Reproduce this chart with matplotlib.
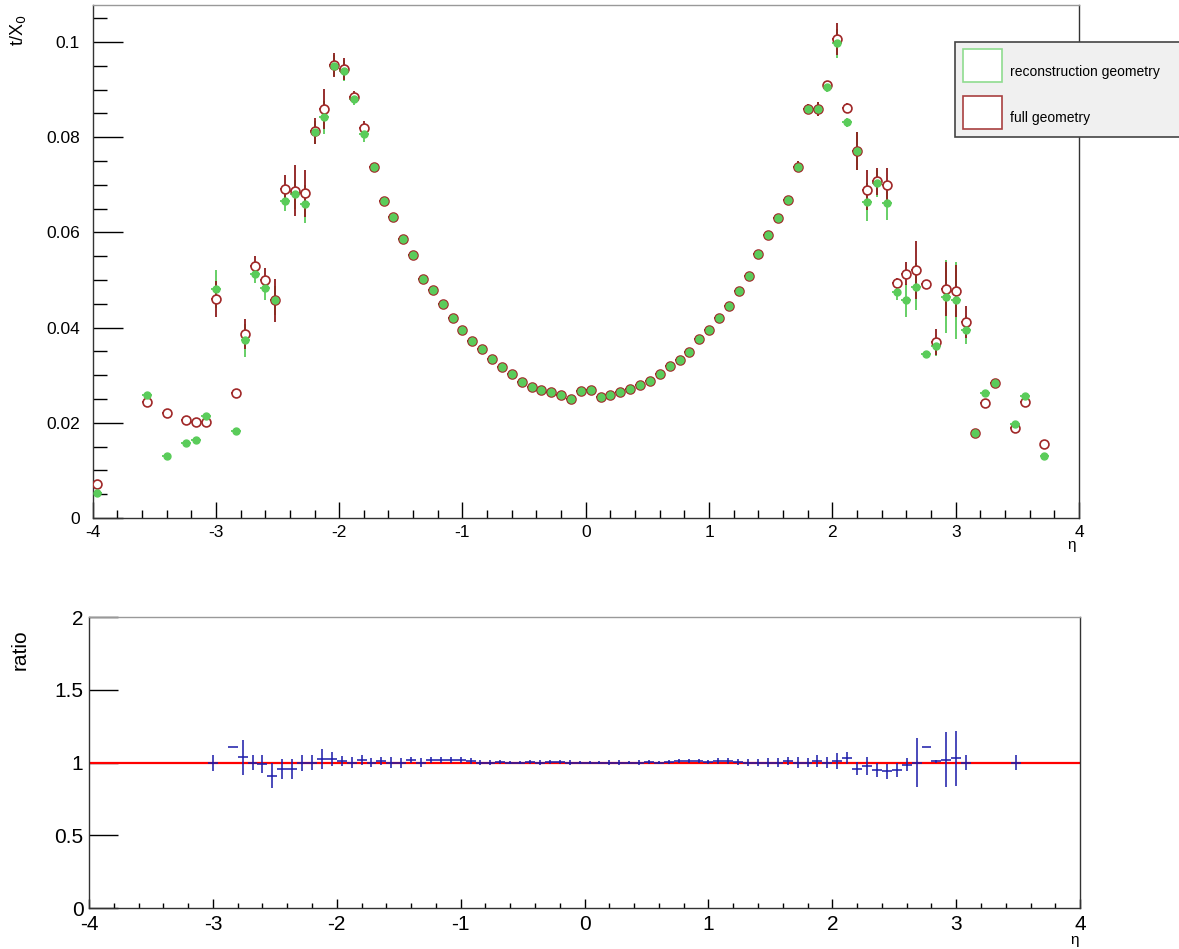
import matplotlib
matplotlib.use('Agg')
import matplotlib.pyplot as plt
from matplotlib.patches import Rectangle
from matplotlib.ticker import MultipleLocator

plt.rcParams['font.family'] = ['Liberation Sans', 'DejaVu Sans']

# material budget per eta bin (bin width 0.08)
eta = [-3.96, -3.56, -3.40, -3.24, -3.16, -3.08, -3.00, -2.84,
       -2.76, -2.68, -2.60, -2.52, -2.44, -2.36, -2.28, -2.20,
       -2.12, -2.04, -1.96, -1.88, -1.80, -1.72, -1.64, -1.56,
       -1.48, -1.40, -1.32, -1.24, -1.16, -1.08, -1.00, -0.92,
       -0.84, -0.76, -0.68, -0.60, -0.52, -0.44, -0.36, -0.28,
       -0.20, -0.12, -0.04, 0.04, 0.12, 0.20, 0.28, 0.36,
       0.44, 0.52, 0.60, 0.68, 0.76, 0.84, 0.92, 1.00,
       1.08, 1.16, 1.24, 1.32, 1.40, 1.48, 1.56, 1.64,
       1.72, 1.80, 1.88, 1.96, 2.04, 2.12, 2.20, 2.28,
       2.36, 2.44, 2.52, 2.60, 2.68, 2.76, 2.84, 2.92,
       3.00, 3.08, 3.16, 3.24, 3.32, 3.48, 3.56, 3.72]

reco = [0.0053, 0.0258, 0.0131, 0.0158, 0.0164, 0.0215, 0.0481, 0.0183,
        0.0373, 0.0513, 0.0483, 0.0457, 0.0665, 0.0680, 0.0659, 0.0810,
        0.0842, 0.0950, 0.0940, 0.0880, 0.0806, 0.0737, 0.0665, 0.0633,
        0.0586, 0.0553, 0.0503, 0.0478, 0.0450, 0.0421, 0.0394, 0.0372,
        0.0354, 0.0335, 0.0318, 0.0303, 0.0286, 0.0276, 0.0268, 0.0264,
        0.0258, 0.0251, 0.0267, 0.0268, 0.0254, 0.0259, 0.0264, 0.0272,
        0.0279, 0.0288, 0.0303, 0.0319, 0.0332, 0.0349, 0.0375, 0.0396,
        0.0420, 0.0445, 0.0477, 0.0508, 0.0555, 0.0594, 0.0630, 0.0668,
        0.0738, 0.0860, 0.0860, 0.0906, 0.0997, 0.0831, 0.0771, 0.0663,
        0.0703, 0.0662, 0.0474, 0.0457, 0.0486, 0.0344, 0.0361, 0.0465,
        0.0457, 0.0395, 0.0179, 0.0262, 0.0283, 0.0197, 0.0257, 0.0131]

full = [0.0071, 0.0244, 0.0220, 0.0206, 0.0202, 0.0202, 0.0460, 0.0263,
        0.0387, 0.0530, 0.0501, 0.0457, 0.0691, 0.0688, 0.0682, 0.0813,
        0.0859, 0.0952, 0.0943, 0.0885, 0.0819, 0.0737, 0.0665, 0.0633,
        0.0586, 0.0553, 0.0503, 0.0478, 0.0450, 0.0421, 0.0394, 0.0372,
        0.0354, 0.0335, 0.0318, 0.0303, 0.0286, 0.0276, 0.0268, 0.0264,
        0.0258, 0.0251, 0.0267, 0.0268, 0.0254, 0.0259, 0.0264, 0.0272,
        0.0279, 0.0288, 0.0303, 0.0319, 0.0332, 0.0349, 0.0375, 0.0396,
        0.0420, 0.0445, 0.0477, 0.0508, 0.0555, 0.0594, 0.0630, 0.0668,
        0.0738, 0.0860, 0.0860, 0.0909, 0.1006, 0.0861, 0.0771, 0.0689,
        0.0707, 0.0700, 0.0493, 0.0513, 0.0521, 0.0492, 0.0370, 0.0481,
        0.0477, 0.0412, 0.0179, 0.0241, 0.0283, 0.0188, 0.0244, 0.0155]

reco_err = [0.0004, 0.0004, 0.0004, 0.0004, 0.0004, 0.0004, 0.0040, 0.0004,
            0.0035, 0.0020, 0.0025, 0.0030, 0.0020, 0.0030, 0.0040, 0.0025,
            0.0035, 0.0022, 0.0022, 0.0012, 0.0015, 0.0006, 0.0005, 0.0004,
            0.0004, 0.0004, 0.0004, 0.0004, 0.0004, 0.0004, 0.0004, 0.0004,
            0.0004, 0.0004, 0.0004, 0.0004, 0.0004, 0.0004, 0.0004, 0.0004,
            0.0004, 0.0004, 0.0004, 0.0004, 0.0004, 0.0004, 0.0004, 0.0004,
            0.0004, 0.0004, 0.0004, 0.0004, 0.0004, 0.0004, 0.0004, 0.0004,
            0.0004, 0.0004, 0.0004, 0.0004, 0.0004, 0.0004, 0.0004, 0.0005,
            0.0012, 0.0010, 0.0015, 0.0010, 0.0030, 0.0010, 0.0040, 0.0040,
            0.0028, 0.0035, 0.0015, 0.0035, 0.0050, 0.0005, 0.0020, 0.0076,
            0.0080, 0.0030, 0.0005, 0.0004, 0.0004, 0.0004, 0.0004, 0.0004]

full_err = [0.0004, 0.0004, 0.0004, 0.0004, 0.0004, 0.0004, 0.0038, 0.0004,
            0.0032, 0.0020, 0.0025, 0.0046, 0.0030, 0.0054, 0.0050, 0.0028,
            0.0042, 0.0025, 0.0023, 0.0012, 0.0015, 0.0008, 0.0005, 0.0004,
            0.0004, 0.0004, 0.0004, 0.0004, 0.0004, 0.0004, 0.0004, 0.0004,
            0.0004, 0.0004, 0.0004, 0.0004, 0.0004, 0.0004, 0.0004, 0.0004,
            0.0004, 0.0004, 0.0004, 0.0004, 0.0004, 0.0004, 0.0004, 0.0004,
            0.0004, 0.0004, 0.0004, 0.0004, 0.0004, 0.0004, 0.0004, 0.0004,
            0.0004, 0.0004, 0.0004, 0.0004, 0.0004, 0.0004, 0.0004, 0.0005,
            0.0012, 0.0010, 0.0015, 0.0010, 0.0033, 0.0010, 0.0040, 0.0042,
            0.0028, 0.0035, 0.0012, 0.0024, 0.0060, 0.0005, 0.0028, 0.0057,
            0.0055, 0.0033, 0.0005, 0.0004, 0.0004, 0.0004, 0.0004, 0.0004]

# ratio reco / full
eta_r = [-3.00, -2.84, -2.76, -2.68, -2.60, -2.52, -2.44, -2.36,
         -2.28, -2.20, -2.12, -2.04, -1.96, -1.88, -1.80, -1.72,
         -1.64, -1.56, -1.48, -1.40, -1.32, -1.24, -1.16, -1.08,
         -1.00, -0.92, -0.84, -0.76, -0.68, -0.60, -0.52, -0.44,
         -0.36, -0.28, -0.20, -0.12, -0.04, 0.04, 0.12, 0.20,
         0.28, 0.36, 0.44, 0.52, 0.60, 0.68, 0.76, 0.84,
         0.92, 1.00, 1.08, 1.16, 1.24, 1.32, 1.40, 1.48,
         1.56, 1.64, 1.72, 1.80, 1.88, 1.96, 2.04, 2.12,
         2.20, 2.28, 2.36, 2.44, 2.52, 2.60, 2.68, 2.76,
         2.84, 2.92, 3.00, 3.08, 3.48]

ratio = [1.00, 1.11, 1.037, 1.00, 0.99, 0.91, 0.957, 0.957,
         1.00, 1.00, 1.025, 1.025, 1.01, 1.00, 1.02, 1.00,
         1.01, 1.00, 0.995, 1.015, 1.00, 1.015, 1.015, 1.015,
         1.015, 1.01, 1.00, 1.00, 1.005, 1.00, 1.00, 1.005,
         1.00, 1.005, 1.005, 1.00, 1.00, 1.00, 1.00, 1.00,
         1.00, 1.00, 1.00, 1.005, 1.00, 1.005, 1.01, 1.01,
         1.01, 1.005, 1.01, 1.01, 1.005, 1.00, 1.00, 1.00,
         1.00, 1.01, 1.00, 1.00, 1.01, 1.00, 1.01, 1.03,
         0.957, 0.977, 0.95, 0.94, 0.95, 0.985, 1.00, 1.11,
         1.01, 1.02, 1.03, 1.00, 1.00]

ratio_err = [0.055, 0.0, 0.12, 0.053, 0.06, 0.087, 0.07, 0.07,
             0.055, 0.05, 0.07, 0.05, 0.035, 0.035, 0.035, 0.03,
             0.03, 0.04, 0.035, 0.02, 0.03, 0.02, 0.02, 0.02,
             0.02, 0.02, 0.015, 0.015, 0.012, 0.012, 0.012, 0.012,
             0.015, 0.012, 0.012, 0.015, 0.012, 0.012, 0.012, 0.015,
             0.015, 0.012, 0.015, 0.012, 0.012, 0.012, 0.015, 0.015,
             0.015, 0.015, 0.02, 0.02, 0.02, 0.025, 0.025, 0.03,
             0.03, 0.03, 0.04, 0.03, 0.04, 0.04, 0.055, 0.04,
             0.045, 0.06, 0.05, 0.05, 0.05, 0.045, 0.17, 0.0,
             0.01, 0.19, 0.19, 0.05, 0.05]

binw = 0.04

fig = plt.figure(figsize=(11.79, 9.49), dpi=100)

# upper pad
ax = fig.add_axes([0.0785, 0.4542, 0.8367, 0.5406])
# error lines first (reco under full), then markers
ax.errorbar(eta, reco, yerr=reco_err, xerr=binw, fmt='none', ecolor='#5acc5a',
            elinewidth=1.3, capsize=0, zorder=2)
ax.errorbar(eta, full, yerr=full_err, xerr=binw, fmt='none', ecolor='#8e1c1c',
            elinewidth=1.3, capsize=0, zorder=3)
ax.plot(eta, full, 'o', ms=6.4, mfc='white', mec='#a02828', mew=1.2,
        zorder=4)
ax.plot(eta, reco, 'o', ms=5.0, mfc='#5acc5a', mec='#5acc5a', zorder=5)
ax.set_xlim(-4, 4)
ax.set_ylim(0, 0.1078)
ax.set_yticks([0, 0.02, 0.04, 0.06, 0.08, 0.1])
ax.set_yticklabels(['0', '0.02', '0.04', '0.06', '0.08', '0.1'])
ax.yaxis.set_minor_locator(MultipleLocator(0.005))
ax.set_xticks([-4, -3, -2, -1, 0, 1, 2, 3, 4])
ax.set_xticklabels(['-4', '-3', '-2', '-1', '0', '1', '2', '3', '4'])
ax.xaxis.set_minor_locator(MultipleLocator(0.2))
ax.tick_params(axis='y', which='major', direction='in', length=21.5, width=1,
               labelsize=12.5, pad=9)
ax.tick_params(axis='y', which='minor', direction='in', length=10, width=1)
ax.tick_params(axis='x', which='major', direction='in', length=11.5, width=1,
               labelsize=12.5, pad=5)
ax.tick_params(axis='x', which='minor', direction='in', length=5.8, width=1)
for s in ax.spines.values():
    s.set_color('#333333')
    s.set_linewidth(1)
ax.spines['top'].set_color('#999999')

fig.text(18/1179, 1-30/949, 't/X$_0$', rotation=90, ha='center', va='center',
         fontsize=13)
fig.text(1072/1179, 1-545/949, 'η', ha='center', va='center', fontsize=11)

# legend box
fig.patches.append(Rectangle((955/1179, 1-137/949), 0.2, 95/949,
                             transform=fig.transFigure, fc='#f0f0f0',
                             ec='#444444', lw=1.2, zorder=5))
fig.patches.append(Rectangle((963/1179, 1-82/949), 39/1179, 33/949,
                             transform=fig.transFigure, fc='white',
                             ec='#8fdc8f', lw=1.2, zorder=6))
fig.patches.append(Rectangle((963/1179, 1-129/949), 39/1179, 33/949,
                             transform=fig.transFigure, fc='white',
                             ec='#a84040', lw=1.2, zorder=6))
fig.text(1010/1179, 1-72/949, 'reconstruction geometry', ha='left',
         va='center', fontsize=10, zorder=7)
fig.text(1010/1179, 1-118/949, 'full geometry', ha='left', va='center',
         fontsize=10, zorder=7)

# lower pad: ratio
axr = fig.add_axes([0.0755, 0.0432, 0.8406, 0.3066])
axr.axhline(1, color='red', lw=1.6, zorder=2)
axr.errorbar(eta_r, ratio, yerr=ratio_err, xerr=binw, fmt='none',
             ecolor='#1c1caa', elinewidth=1.4, alpha=0.8, capsize=0, zorder=3)
axr.set_xlim(-4, 4)
axr.set_ylim(0, 2)
axr.set_yticks([0, 0.5, 1, 1.5, 2])
axr.set_yticklabels(['0', '0.5', '1', '1.5', '2'])
axr.set_xticks([-4, -3, -2, -1, 0, 1, 2, 3, 4])
axr.set_xticklabels(['-4', '-3', '-2', '-1', '0', '1', '2', '3', '4'])
axr.xaxis.set_minor_locator(MultipleLocator(0.2))
axr.tick_params(axis='y', which='major', direction='in', length=21, width=1,
                labelsize=15, pad=4)
axr.tick_params(axis='x', which='major', direction='in', length=6.5, width=1,
                labelsize=15, pad=5)
axr.tick_params(axis='x', which='minor', direction='in', length=3.6, width=1)
for s in axr.spines.values():
    s.set_color('#333333')
    s.set_linewidth(1)
axr.spines['top'].set_color('#999999')

fig.text(20/1179, 1-650/949, 'ratio', rotation=90, ha='center', va='center',
         fontsize=15)
fig.text(1075/1179, 1-940/949, 'η', ha='center', va='center', fontsize=11)

plt.savefig('out.png', dpi=100)
